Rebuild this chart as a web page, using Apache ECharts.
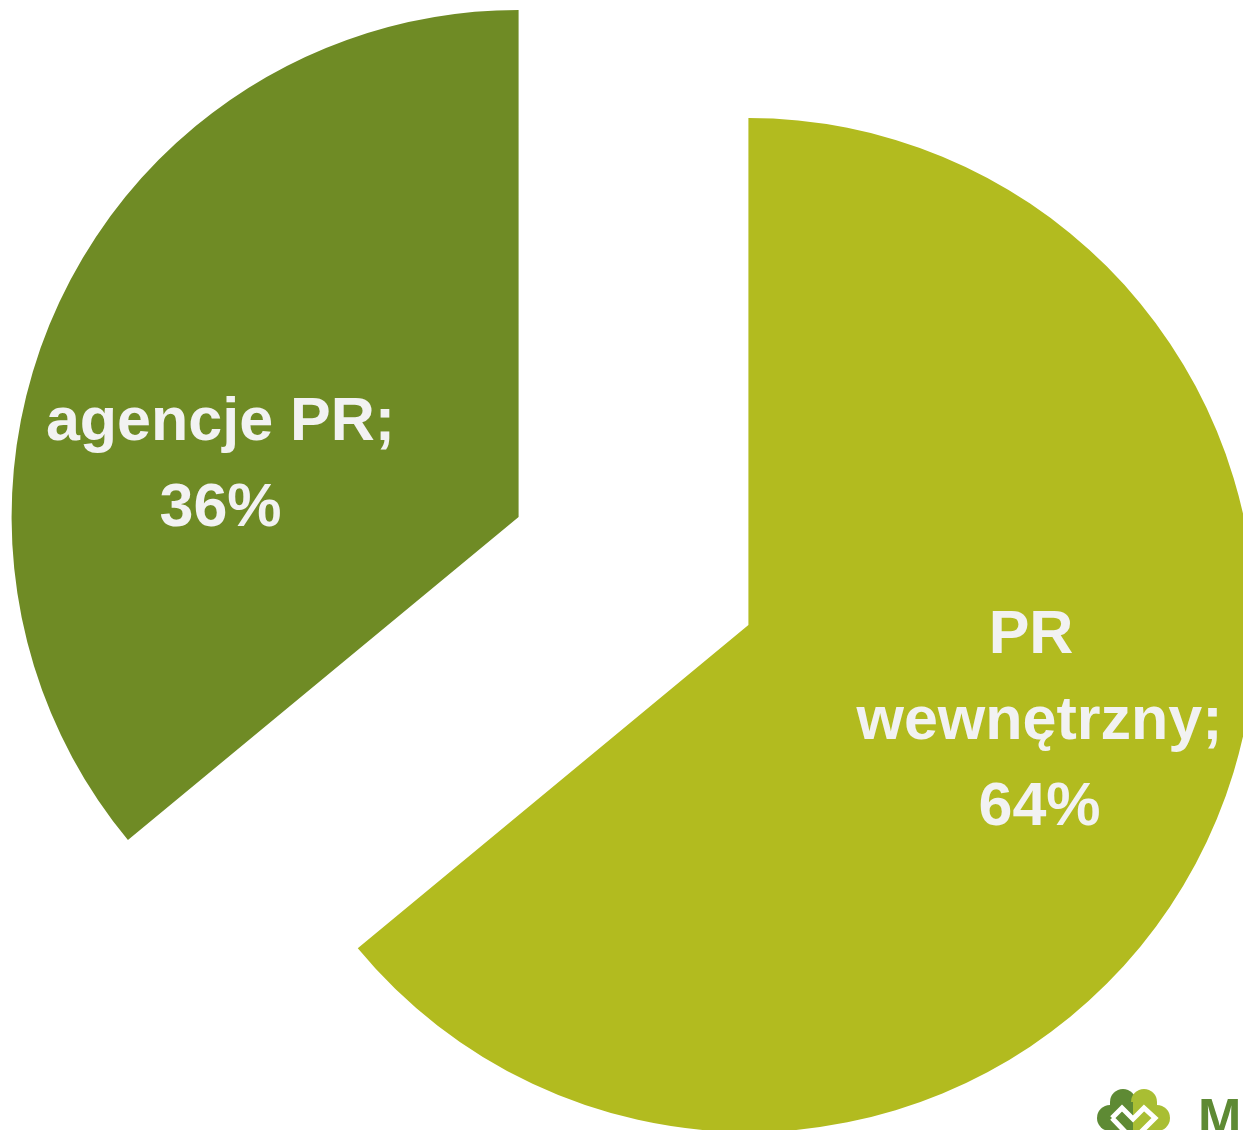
<!DOCTYPE html>
<html>
<head>
<meta charset="utf-8">
<style>
  html, body { margin: 0; padding: 0; background: #fff; }
  #chart { width: 1243px; height: 1130px; }
</style>
<script src="https://cdn.jsdelivr.net/npm/echarts@6/dist/echarts.min.js"></script>
</head>
<body>
<div id="chart"></div>
<script>
// udział: PR wewnętrzny vs agencje PR
const categories = ['PR wewnętrzny', 'agencje PR'];
const shares = [64, 36];
const colors = ['#B2BB1F', '#6F8B25'];
// label nudges from the default "inside" spot
const labelShift = [[59, -12], [-66, 58]];

const chart = echarts.init(document.getElementById('chart'), null, { renderer: 'canvas' });

const seriesData = categories.map((name, i) => ({
  name: name,
  value: shares[i],
  selected: true,
  itemStyle: { color: colors[i] }
}));

const option = {
  animation: false,
  backgroundColor: '#ffffff',
  series: [
    {
      type: 'pie',
      center: [633.5, 571],
      radius: 507,
      startAngle: 90,
      clockwise: true,
      selectedMode: 'multiple',
      selectedOffset: 127,
      emphasis: { disabled: true },
      data: seriesData,
      label: {
        show: true,
        position: 'inside',
        formatter: '{b};\n{c}%',
        color: '#F2F2F2',
        fontFamily: '"Liberation Sans", Arial, sans-serif',
        fontWeight: 'bold',
        fontSize: 61,
        lineHeight: 86,
        width: 400,
        overflow: 'break',
        align: 'center'
      },
      labelLayout: function (p) {
        return { dx: labelShift[p.dataIndex][0], dy: labelShift[p.dataIndex][1] };
      },
      labelLine: { show: false }
    }
  ],
  graphic: [
    {
      type: 'group',
      left: 1097,
      top: 1089,
      children: [
        { type: 'circle', shape: { cx: 25, cy: 14, r: 13 }, style: { fill: '#5E8A34' } },
        { type: 'circle', shape: { cx: 12, cy: 30, r: 13 }, style: { fill: '#5E8A34' } },
        { type: 'circle', shape: { cx: 46, cy: 14, r: 13 }, style: { fill: '#A9BE33' } },
        { type: 'circle', shape: { cx: 59, cy: 30, r: 13 }, style: { fill: '#A9BE33' } },
        { type: 'rect', shape: { x: 12, y: 14, width: 23, height: 30 }, style: { fill: '#5E8A34' } },
        { type: 'rect', shape: { x: 35, y: 14, width: 24, height: 30 }, style: { fill: '#A9BE33' } },
        {
          type: 'polyline',
          shape: { points: [[14, 30], [24, 20], [35, 31], [46, 20], [57, 30], [35, 52], [14, 30]] },
          style: { stroke: '#ffffff', lineWidth: 5, fill: null }
        }
      ]
    },
    {
      type: 'text',
      left: 1198,
      top: 1095,
      style: {
        text: 'M',
        fill: '#5E8A34',
        font: 'bold 52px "Liberation Sans", sans-serif'
      }
    }
  ]
};

chart.setOption(option);
</script>
</body>
</html>
